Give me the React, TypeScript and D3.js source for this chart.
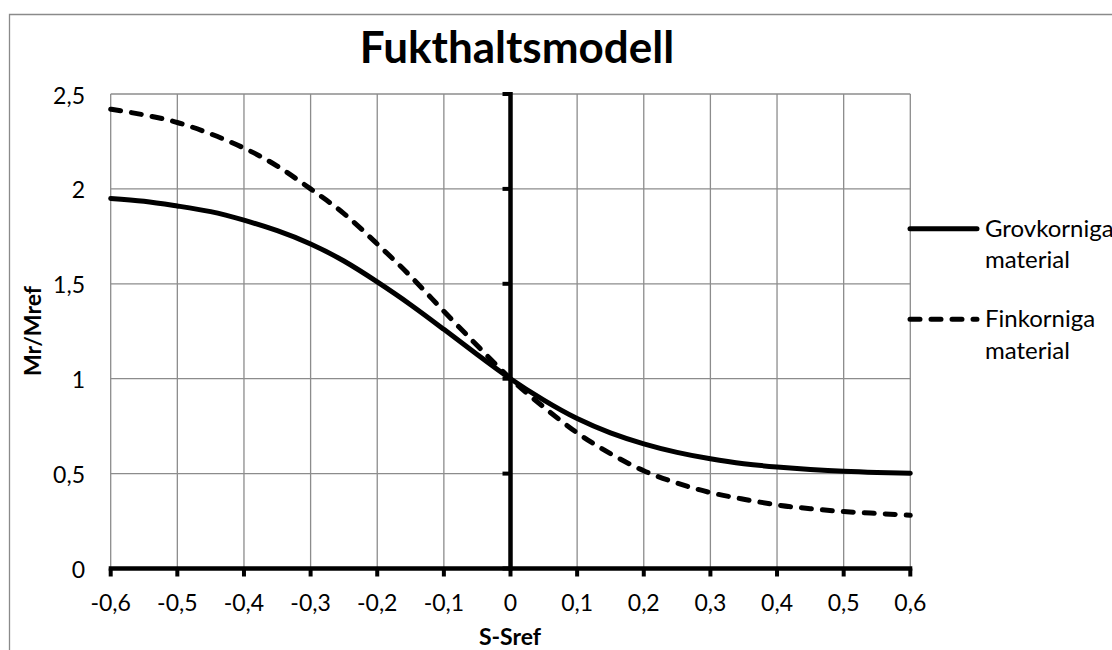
import React from 'react';
import * as d3 from 'd3';

// Moisture model: relative resilient modulus versus change in degree of saturation
const sValues = [
  -0.6, -0.55, -0.5, -0.45, -0.4, -0.35, -0.3, -0.25, -0.2, -0.15, -0.1, -0.05, 0,
  0.05, 0.1, 0.15, 0.2, 0.25, 0.3, 0.35, 0.4, 0.45, 0.5, 0.55, 0.6,
];
const grovkorniga = [
  1.95, 1.935, 1.91, 1.88, 1.835, 1.78, 1.71, 1.62, 1.51, 1.39, 1.26, 1.128, 1.0,
  0.887, 0.79, 0.715, 0.657, 0.612, 0.578, 0.552, 0.535, 0.522, 0.512, 0.506, 0.502,
];
const finkorniga = [
  2.42, 2.39, 2.35, 2.29, 2.215, 2.12, 2.0, 1.87, 1.71, 1.54, 1.355, 1.175, 1.0,
  0.85, 0.715, 0.605, 0.515, 0.45, 0.4, 0.365, 0.335, 0.315, 0.3, 0.29, 0.28,
];

const xTickValues = [-0.6, -0.5, -0.4, -0.3, -0.2, -0.1, 0, 0.1, 0.2, 0.3, 0.4, 0.5, 0.6];
const xTickLabels = ['-0,6', '-0,5', '-0,4', '-0,3', '-0,2', '-0,1', '0', '0,1', '0,2', '0,3', '0,4', '0,5', '0,6'];
const yTickValues = [0, 0.5, 1, 1.5, 2, 2.5];
const yTickLabels = ['0', '0,5', '1', '1,5', '2', '2,5'];

const titleText = 'Fukthaltsmodell';
const xAxisTitle = 'S-Sref';
const yAxisTitle = 'Mr/Mref';
const legendLines = [
  ['Grovkorniga', 'material'],
  ['Finkorniga', 'material'],
];

const W = 1112;
const H = 650;
const FONT = 'Lato, "Open Sans", sans-serif';
const GRID = '#8c8c8c';

export default function App() {
  const x = d3.scaleLinear().domain([-0.6, 0.6]).range([110.7, 910.3]);
  const y = d3.scaleLinear().domain([0, 2.5]).range([568.5, 94]);

  const line = d3
    .line<number>()
    .x((_, i) => x(sValues[i]))
    .y((d) => y(d))
    .curve(d3.curveNatural);

  const series = [
    { values: grovkorniga, dash: undefined as string | undefined },
    { values: finkorniga, dash: '10 11' },
  ];

  const legendY = [228.7, 319.3];

  return (
    <svg
      width={W}
      height={H}
      style={{ position: 'absolute', left: 0, top: 0, background: '#fff' }}
      fontFamily={FONT}
    >
      <rect x={0} y={0} width={W} height={H} fill="#fff" />
      {/* chart area frame */}
      <path d={`M9.5,${H + 5} V14.5 H${W + 5}`} fill="none" stroke="#8a8a8a" strokeWidth={1.3} />

      <text x={517} y={63} textAnchor="middle" fontSize={44} fontWeight={700} fill="#000">
        {titleText}
      </text>

      {/* gridlines */}
      {xTickValues.map((v) => (
        <line key={`gx${v}`} x1={x(v)} x2={x(v)} y1={y(0)} y2={y(2.5)} stroke={GRID} strokeWidth={1.3} />
      ))}
      {yTickValues.map((v) => (
        <line key={`gy${v}`} x1={x(-0.6)} x2={x(0.6)} y1={y(v)} y2={y(v)} stroke={GRID} strokeWidth={1.3} />
      ))}

      {/* axes */}
      <line x1={x(-0.6) - 2} x2={x(0.6) + 2} y1={y(0)} y2={y(0)} stroke="#000" strokeWidth={4.5} />
      {xTickValues.map((v) => (
        <line key={`tx${v}`} x1={x(v)} x2={x(v)} y1={y(0)} y2={y(0) + 8} stroke="#000" strokeWidth={4} />
      ))}
      <line x1={x(0)} x2={x(0)} y1={y(0) + 2} y2={y(2.5) - 2} stroke="#000" strokeWidth={4.5} />
      {yTickValues.map((v) => (
        <line key={`ty${v}`} x1={x(0) - 8} x2={x(0)} y1={y(v)} y2={y(v)} stroke="#000" strokeWidth={4} />
      ))}

      {/* tick labels */}
      {xTickValues.map((v, i) => (
        <text key={`lx${v}`} x={x(v)} y={611} textAnchor="middle" fontSize={23} fill="#000">
          {xTickLabels[i]}
        </text>
      ))}
      {yTickValues.map((v, i) => (
        <text key={`ly${v}`} x={85} y={y(v) + 9.5} textAnchor="end" fontSize={23} fill="#000">
          {yTickLabels[i]}
        </text>
      ))}

      {/* axis titles */}
      <text x={510} y={645} textAnchor="middle" fontSize={23} fontWeight={700} fill="#000">
        {xAxisTitle}
      </text>
      <text
        transform={`translate(41,331) rotate(-90)`}
        textAnchor="middle"
        fontSize={23}
        fontWeight={700}
        fill="#000"
      >
        {yAxisTitle}
      </text>

      {/* series */}
      {series.map((s, i) => (
        <path
          key={`s${i}`}
          d={line(s.values) || ''}
          fill="none"
          stroke="#000"
          strokeWidth={5}
          strokeDasharray={s.dash}
          strokeLinecap="round"
        />
      ))}

      {/* legend */}
      {series.map((s, i) => (
        <g key={`lg${i}`}>
          <line
            x1={910}
            x2={977}
            y1={legendY[i]}
            y2={legendY[i]}
            stroke="#000"
            strokeWidth={5}
            strokeDasharray={s.dash}
            strokeLinecap="round"
          />
          <text x={985} y={legendY[i] + 8} fontSize={24} fill="#000">
            {legendLines[i][0]}
          </text>
          <text x={985} y={legendY[i] + 39.6} fontSize={24} fill="#000">
            {legendLines[i][1]}
          </text>
        </g>
      ))}
    </svg>
  );
}
